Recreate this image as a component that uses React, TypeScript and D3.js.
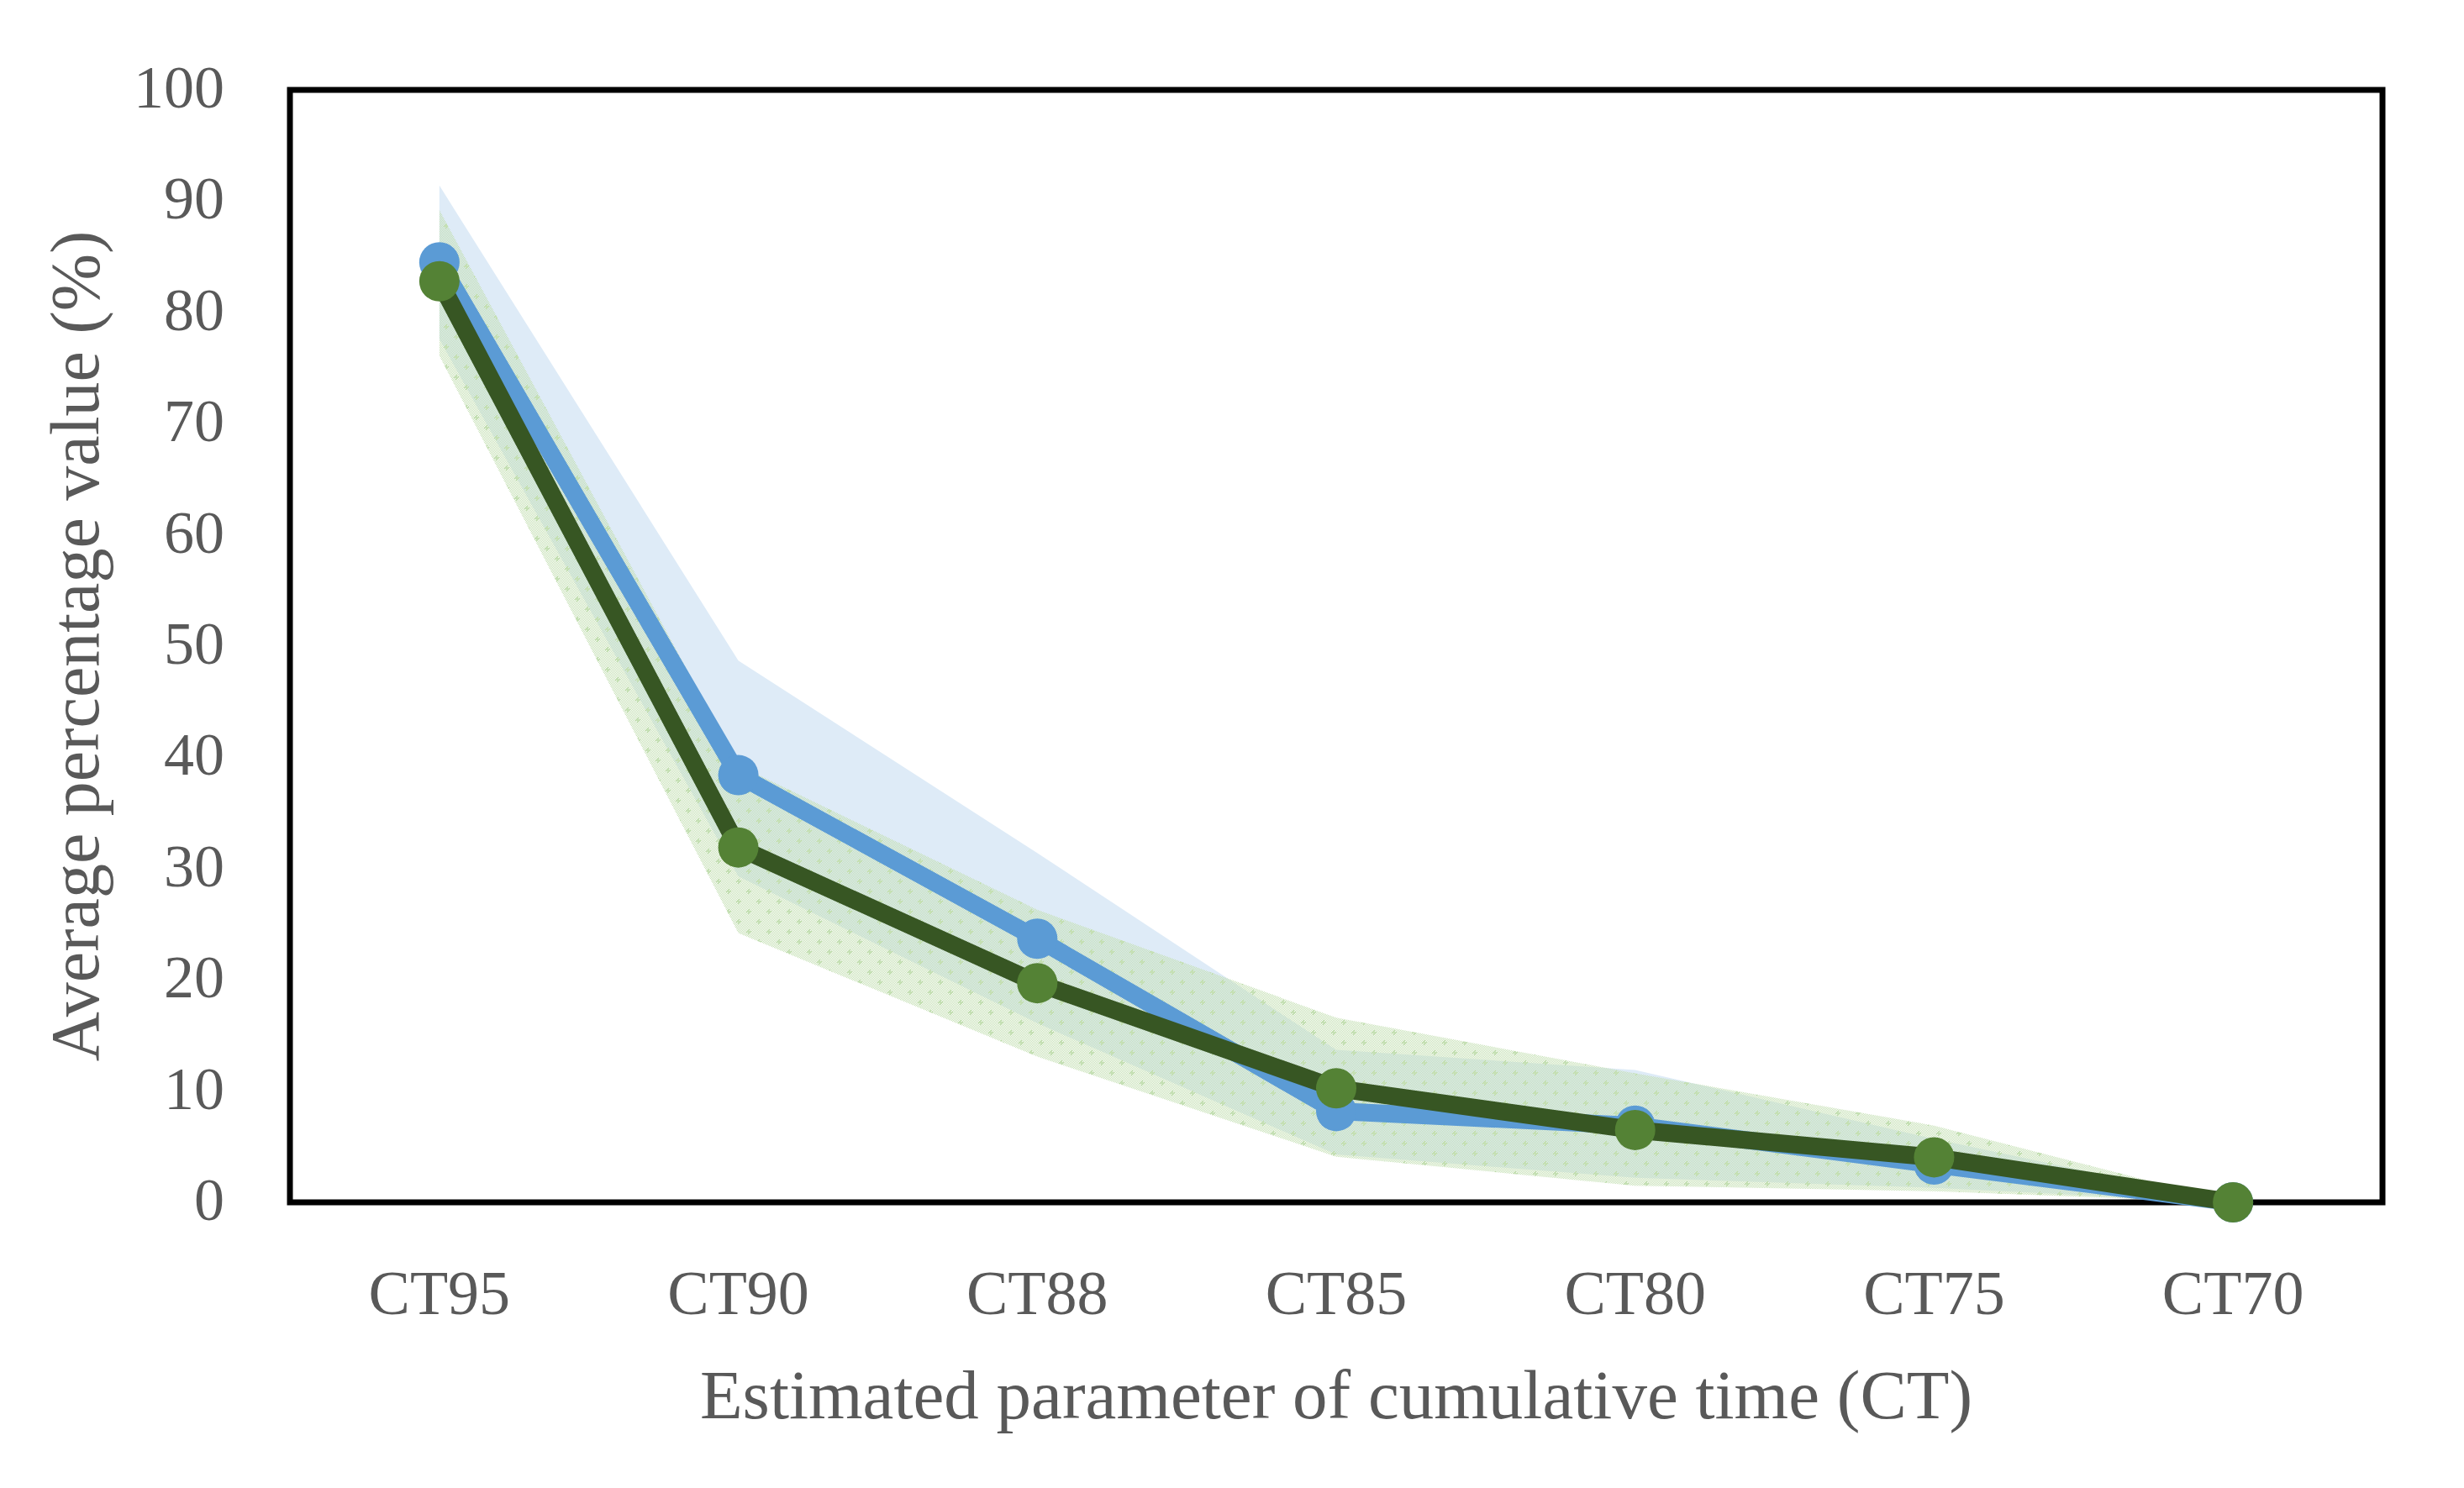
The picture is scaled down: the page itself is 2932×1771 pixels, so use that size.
import { useEffect, useRef } from 'react';
import * as d3 from 'd3';

const categories = ['CT95', 'CT90', 'CT88', 'CT85', 'CT80', 'CT75', 'CT70'];
const yTicks = [0, 10, 20, 30, 40, 50, 60, 70, 80, 90, 100];

// blue series + its band
const blueMean = [84.5, 38.4, 23.7, 8.2, 6.9, 3.4, 0];
const blueUpper = [91.4, 48.7, 31.4, 13.7, 11.9, 5.7, 0];
const blueLower = [77.6, 29.3, 16.1, 4.3, 2.2, 1.3, 0];

// green series + its band
const greenMean = [82.8, 31.9, 19.7, 10.25, 6.5, 4.05, 0];
const greenUpper = [89.2, 39.3, 26.3, 16.6, 11.6, 6.9, 0];
const greenLower = [76.1, 24.2, 13.1, 4.1, 1.5, 1.0, 0];

const W = 2932;
const H = 1771;
const FONT = '"Palatino Linotype", "Book Antiqua", Palatino, "Liberation Serif", serif';
const TEXT = '#595959';

const App = () => {
  const svgRef = useRef<SVGSVGElement>(null);

  useEffect(() => {
    if (!svgRef.current) return;
    const svg = d3.select(svgRef.current);
    svg.selectAll('*').remove();

    const margin = { top: 107, right: W - 2835, bottom: H - 1431, left: 345 };
    const width = W - margin.left - margin.right;
    const height = H - margin.top - margin.bottom;

    const x = d3.scaleBand<string>().domain(categories).range([0, width]);
    const cx = (i: number) => (x(categories[i]) as number) + x.bandwidth() / 2;
    const y = d3.scaleLinear().domain([0, 100]).range([height, 0]);

    // patterns for the green band (checker + small plus marks)
    const defs = svg.append('defs');
    const checker = defs.append('pattern')
      .attr('id', 'checker')
      .attr('patternUnits', 'userSpaceOnUse')
      .attr('width', 2).attr('height', 2);
    checker.append('rect').attr('x', 0).attr('y', 0).attr('width', 1).attr('height', 1).attr('fill', '#c5e0b4');
    checker.append('rect').attr('x', 1).attr('y', 1).attr('width', 1).attr('height', 1).attr('fill', '#c5e0b4');

    const dots = defs.append('pattern')
      .attr('id', 'greenDots')
      .attr('patternUnits', 'userSpaceOnUse')
      .attr('width', 24).attr('height', 24);
    dots.append('rect').attr('width', 24).attr('height', 24).attr('fill', 'url(#checker)');
    [[6, 6], [18, 18]].forEach(([px, py]) => {
      dots.append('rect').attr('x', px - 3).attr('y', py - 1).attr('width', 6).attr('height', 2).attr('fill', '#c5e0b4');
      dots.append('rect').attr('x', px - 1).attr('y', py - 3).attr('width', 2).attr('height', 6).attr('fill', '#c5e0b4');
    });

    const g = svg.append('g').attr('transform', `translate(${margin.left},${margin.top})`);

    const idx = d3.range(categories.length);

    const band = (lo: number[], hi: number[]) =>
      d3.area<number>()
        .x(i => cx(i))
        .y0(i => y(lo[i]))
        .y1(i => y(hi[i]))(idx);

    g.append('path').attr('d', band(blueLower, blueUpper)).attr('fill', '#deebf7');
    g.append('path').attr('d', band(greenLower, greenUpper)).attr('fill', 'url(#greenDots)');

    // plot frame
    g.append('rect')
      .attr('x', 0).attr('y', 0)
      .attr('width', width).attr('height', height)
      .attr('fill', 'none')
      .attr('stroke', '#000')
      .attr('stroke-width', 7);

    const drawSeries = (vals: number[], lineColor: string, dotColor: string) => {
      const line = d3.line<number>().x(i => cx(i)).y(i => y(vals[i]));
      g.append('path')
        .attr('d', line(idx))
        .attr('fill', 'none')
        .attr('stroke', lineColor)
        .attr('stroke-width', 21)
        .attr('stroke-linejoin', 'round');
      g.selectAll(null)
        .data(idx)
        .join('circle')
        .attr('cx', i => cx(i))
        .attr('cy', i => y(vals[i]))
        .attr('r', 24)
        .attr('fill', dotColor);
    };

    drawSeries(blueMean, '#5b9bd5', '#5b9bd5');
    drawSeries(greenMean, '#375623', '#548235');

    // y tick labels
    g.append('g')
      .selectAll('text')
      .data(yTicks)
      .join('text')
      .attr('x', 267 - margin.left)
      .attr('y', d => y(d) + 21)
      .attr('text-anchor', 'end')
      .attr('font-family', FONT)
      .attr('font-size', 72)
      .attr('fill', TEXT)
      .text(d => String(d));

    // x tick labels
    g.append('g')
      .selectAll('text')
      .data(categories)
      .join('text')
      .attr('x', d => (x(d) as number) + x.bandwidth() / 2)
      .attr('y', 1564 - margin.top)
      .attr('text-anchor', 'middle')
      .attr('font-family', FONT)
      .attr('font-size', 74)
      .attr('fill', TEXT)
      .text(d => d);

    // axis titles
    svg.append('text')
      .attr('x', margin.left + width / 2)
      .attr('y', 1688)
      .attr('text-anchor', 'middle')
      .attr('font-family', FONT)
      .attr('font-size', 83)
      .attr('fill', TEXT)
      .text('Estimated parameter of cumulative time (CT)');

    svg.append('text')
      .attr('transform', `translate(117,${margin.top + height / 2}) rotate(-90)`)
      .attr('text-anchor', 'middle')
      .attr('font-family', FONT)
      .attr('font-size', 82)
      .attr('fill', TEXT)
      .text('Average percentage value (%)');
  }, []);

  return (
    <div style={{ position: 'absolute', left: 0, top: 0, width: W, height: H, background: '#fff' }}>
      <svg ref={svgRef} width={W} height={H} />
    </div>
  );
};

export default App;
